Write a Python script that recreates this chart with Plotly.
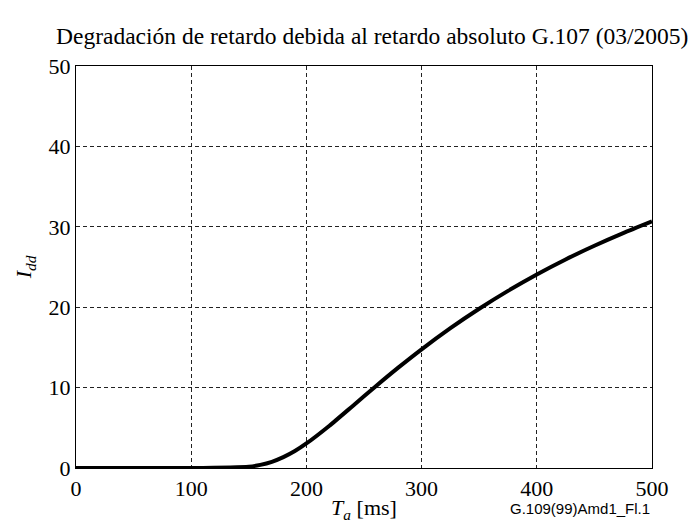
import plotly.graph_objects as go

# Delay impairment Idd versus absolute one-way delay Ta (G.107, 03/2005)
ta_ms = [0, 50, 100, 150, 160, 170, 180, 190, 200, 220, 240, 260, 280, 300,
         325, 350, 375, 400, 425, 450, 475, 500]
idd = [0.0, 0.0, 0.0, 0.16, 0.39, 0.77, 1.35, 2.11, 3.05, 5.26, 7.69, 10.14,
       12.51, 14.76, 17.39, 19.81, 22.03, 24.07, 25.94, 27.64, 29.21, 30.67]

x_ticks = [0, 100, 200, 300, 400, 500]
y_ticks = [0, 10, 20, 30, 40, 50]

title_text = "Degradación de retardo debida al retardo absoluto G.107 (03/2005)"
figure_id = "G.109(99)Amd1_Fl.1"

serif = "Liberation Serif"
sans = "Liberation Sans"

fig = go.Figure()
fig.add_trace(go.Scatter(
    x=ta_ms, y=idd, mode="lines",
    line=dict(color="black", width=4, shape="spline", smoothing=0.6),
    showlegend=False, hoverinfo="skip",
))

axis_common = dict(
    showline=True, linecolor="black", linewidth=1.3, mirror=True,
    showgrid=True, gridcolor="#222222", gridwidth=1, griddash="4px,3px",
    zeroline=False, ticks="", automargin=False,
    tickfont=dict(family=serif, size=22, color="black"),
)

fig.update_xaxes(range=[0, 500], tickvals=x_ticks,
                 title=dict(text="<i>T</i><sub><i>a</i></sub> [ms]",
                            font=dict(family=serif, size=22, color="black"),
                            standoff=4),
                 **axis_common)
fig.update_yaxes(range=[0, 50], tickvals=y_ticks,
                 title=dict(text="<i>I</i><sub><i>dd</i></sub>",
                            font=dict(family=serif, size=22, color="black"),
                            standoff=10),
                 **axis_common)

fig.add_annotation(text=title_text, xref="paper", yref="paper",
                   x=1.066, y=1.0, yshift=15, xanchor="right", yanchor="bottom",
                   showarrow=False,
                   font=dict(family=serif, size=23.5, color="black"))
fig.add_annotation(text=figure_id, xref="paper", yref="paper",
                   x=1.0, y=0, yshift=-40, xanchor="right", yanchor="middle",
                   showarrow=False,
                   font=dict(family=sans, size=15, color="black"))

fig.update_layout(
    width=693, height=523,
    margin=dict(l=76, r=41, t=66, b=55),
    font=dict(family=serif, size=22, color="black"),
    paper_bgcolor="white", plot_bgcolor="white",
)

fig.write_html("out.html")
